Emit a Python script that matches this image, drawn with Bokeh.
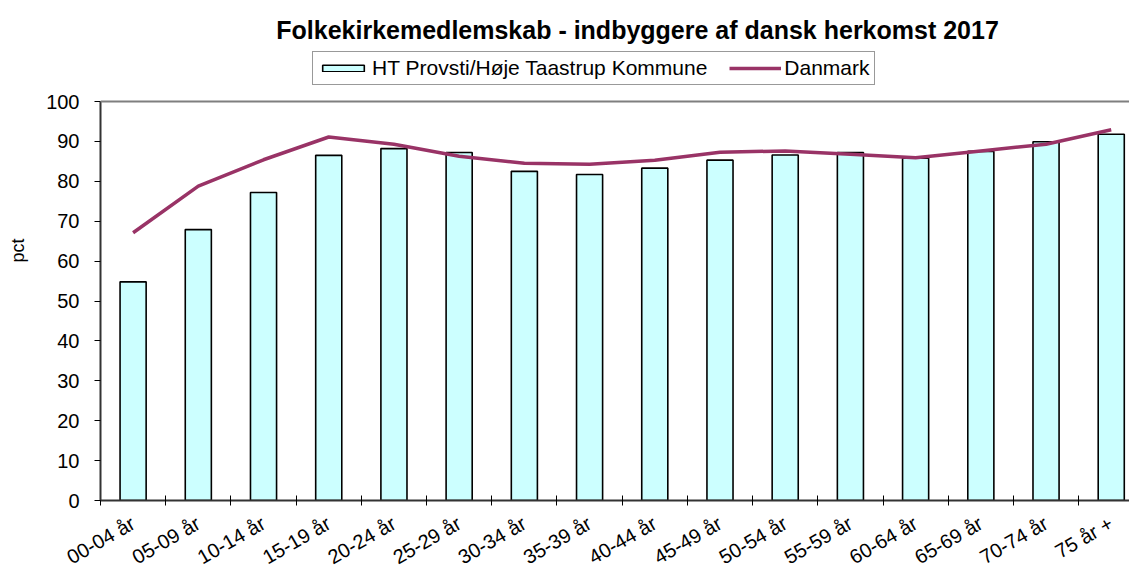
from bokeh.plotting import figure
from bokeh.models import (Range1d, FixedTicker, Legend, LegendItem, Label, ColumnDataSource, Span)
from bokeh.embed import file_html
from bokeh.resources import INLINE
import math

categories = ["00-04 år", "05-09 år", "10-14 år", "15-19 år", "20-24 år", "25-29 år",
              "30-34 år", "35-39 år", "40-44 år", "45-49 år", "50-54 år", "55-59 år",
              "60-64 år", "65-69 år", "70-74 år", "75 år +"]
ht_provsti = [54.8, 67.9, 77.2, 86.5, 88.2, 87.2, 82.5, 81.7, 83.3, 85.3,
              86.6, 87.2, 85.8, 87.5, 89.9, 91.8]
danmark = [67.1, 78.8, 85.4, 91.1, 89.3, 86.3, 84.5, 84.3, 85.3, 87.3,
           87.6, 86.8, 85.9, 87.6, 89.3, 92.9]
y_ticks = [0, 10, 20, 30, 40, 50, 60, 70, 80, 90, 100]
y_max = 100

FONT = "Liberation Sans"
n = len(categories)
xs = [i + 0.5 for i in range(n)]
src = ColumnDataSource(dict(x=xs, ht=ht_provsti, dk=danmark))

FRAME_H = 500
PLOT_H = 399  # pixel height of the 0..100 value span
p = figure(frame_width=1029, frame_height=FRAME_H, output_backend="svg", toolbar_location=None,
           x_range=Range1d(0, 15.78), y_range=Range1d(0, y_max * FRAME_H / PLOT_H),
           min_border_left=100, min_border_right=0, min_border_top=0, min_border_bottom=68)
p.background_fill_color = "white"
p.border_fill_color = "white"
p.outline_line_color = None
p.xgrid.visible = False
p.ygrid.visible = False

p.add_layout(Span(location=y_max, dimension="width", line_color="#7f7f7f", line_width=2))

bars = p.vbar(x="x", top="ht", width=0.4, source=src, fill_color="#CCFFFF",
              line_color="black", line_width=1.6)
line = p.line(x="x", y="dk", source=src, line_color="#993366", line_width=3.5)

# x axis
p.xaxis.ticker = FixedTicker(ticks=xs, minor_ticks=list(range(n + 1)))
p.xaxis.major_label_overrides = {x: c for x, c in zip(xs, categories)}
p.xaxis.major_label_orientation = math.radians(30)
p.xaxis.major_tick_in = 0
p.xaxis.major_tick_out = 0
p.xaxis.minor_tick_in = 5
p.xaxis.minor_tick_out = 5
p.xaxis.minor_tick_line_color = "black"
p.xaxis.axis_line_color = "#333333"
p.xaxis.axis_line_width = 2
p.xaxis.major_label_text_font = FONT
p.xaxis.major_label_text_font_size = "20px"
p.xaxis.major_label_text_color = "black"
p.xaxis.major_label_standoff = 16

# y axis
p.yaxis.ticker = FixedTicker(ticks=y_ticks)
p.yaxis.bounds = (0, y_max)
p.yaxis.minor_tick_line_color = None
p.yaxis.major_tick_in = 0
p.yaxis.major_tick_out = 6
p.yaxis.major_tick_line_color = "black"
p.yaxis.axis_line_color = "#333333"
p.yaxis.axis_line_width = 2
p.yaxis.major_label_text_font = FONT
p.yaxis.major_label_text_font_size = "20px"
p.yaxis.major_label_text_color = "black"
p.yaxis.major_label_standoff = 15
p.yaxis.axis_label = "pct"
p.yaxis.axis_label_text_font = FONT
p.yaxis.axis_label_text_font_size = "18px"
p.yaxis.axis_label_text_font_style = "normal"
p.yaxis.axis_label_text_color = "black"
p.yaxis.axis_label_standoff = 15

legend = Legend(items=[LegendItem(label="HT Provsti/Høje Taastrup Kommune", renderers=[bars]),
                       LegendItem(label="Danmark", renderers=[line])],
                orientation="horizontal", location=(212, 415),
                label_text_font=FONT, label_text_font_size="21px", label_text_color="black",
                glyph_width=52, glyph_height=8, label_standoff=3, spacing=22,
                label_height=19, padding=4, margin=0,
                border_line_color="#333333", border_line_width=1,
                background_fill_color="white", background_fill_alpha=1.0)
p.add_layout(legend, "center")

title = Label(x=544, y=FRAME_H - 29, x_units="screen", y_units="screen",
              text="Folkekirkemedlemskab  -  indbyggere af dansk herkomst 2017",
              text_font=FONT, text_font_size="25px", text_font_style="bold",
              text_align="center", text_baseline="middle", text_color="black")
p.add_layout(title)

open("out.html", "w").write(file_html(p, INLINE))
